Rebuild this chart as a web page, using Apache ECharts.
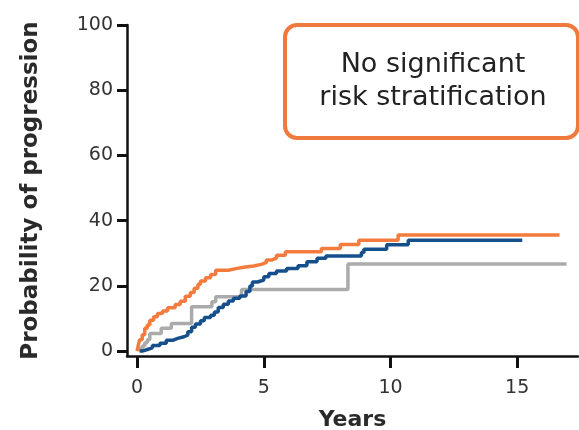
<!DOCTYPE html>
<html>
<head>
<meta charset="utf-8">
<script src="https://cdn.jsdelivr.net/npm/echarts@6/dist/echarts.min.js"></script>
<style>html,body{margin:0;padding:0;background:#fff;}#c{width:579px;height:430px;}</style>
</head>
<body>
<div id="c"></div>
<script>
// Step-curve data (time in years, cumulative probability %)
const orangeT = [0, 0.05, 0.1, 0.2, 0.3, 0.4, 0.5, 0.65, 0.8, 1.0, 1.2, 1.5, 1.7, 1.9, 2.1, 2.25, 2.4, 2.5, 2.7, 2.9, 3.1, 3.6, 3.9, 4.2, 4.6, 4.9, 5.1, 5.3, 5.5, 5.85, 7.27, 8.02, 8.75, 10.3, 16.67];
const orangeV = [0, 2, 3.5, 5, 7, 8, 9.5, 10.5, 11.5, 12.3, 13.3, 14.3, 15.3, 16.8, 18, 19.3, 20.5, 21.5, 22.5, 23.5, 24.8, 25.3, 25.7, 26.1, 26.6, 27.2, 27.9, 28.5, 29.4, 30.5, 31.5, 32.7, 34.0, 35.6, 35.6];

const blueT = [0.1, 0.2, 0.4, 0.6, 0.9, 1.15, 1.4, 1.6, 1.85, 2.0, 2.15, 2.3, 2.5, 2.65, 2.9, 3.05, 3.2, 3.4, 3.6, 3.8, 4.05, 4.3, 4.45, 4.55, 4.75, 5.0, 5.2, 5.5, 5.9, 6.35, 6.7, 7.1, 7.45, 8.85, 8.95, 9.85, 10.7, 15.2];
const blueV = [0, 0.5, 1, 1.7, 2.4, 3.3, 3.9, 4.4, 4.9, 5.9, 7.3, 8.3, 9.3, 10.3, 11, 12, 13.4, 14.4, 15.4, 16.2, 16.9, 18.3, 20, 21.2, 21.8, 22.8, 23.8, 24.6, 25.3, 26.2, 27.4, 28.5, 29.2, 30.2, 31.2, 32.6, 34.0, 34.0];

const grayT = [0.05, 0.1, 0.2, 0.3, 0.4, 0.5, 0.95, 1.35, 2.15, 2.95, 3.1, 4.12, 8.32, 16.95];
const grayV = [0, 0.8, 1.6, 2.6, 3.5, 5.4, 7.0, 8.5, 13.6, 15.1, 16.7, 18.9, 26.7, 26.7];

const xTicks = [0, 5, 10, 15];
const yTicks = [0, 20, 40, 60, 80, 100];

const COLORS = { orange: '#F47B3E', blue: '#16508C', gray: '#ABABAB' };
const zip = (t, v) => t.map((x, i) => [x, v[i]]);

const chart = echarts.init(document.getElementById('c'), null, { renderer: 'canvas' });
const labelFont = 'DejaVu Sans';
chart.setOption({
  animation: false,
  backgroundColor: '#fff',
  grid: { left: 127, right: 1, top: 25, bottom: 74, containLabel: false, outerBoundsMode: 'none' },
  xAxis: {
    type: 'value', min: -0.4, max: 17.4,
    name: 'Years', nameLocation: 'middle', nameGap: 53,
    nameTextStyle: { fontFamily: labelFont, fontWeight: 'bold', fontSize: 22, color: '#2a2a2a' },
    axisLine: { show: true, onZero: false, lineStyle: { color: '#111', width: 2.5 } },
    axisTick: { show: true, length: 12, customValues: xTicks, lineStyle: { color: '#111', width: 3 } },
    axisLabel: { customValues: xTicks, margin: 23, fontFamily: labelFont, fontSize: 19, color: '#333' },
    splitLine: { show: false }
  },
  yAxis: {
    type: 'value', min: -1.5, max: 100,
    name: 'Probability of progression', nameLocation: 'middle', nameGap: 84, nameRotate: 90,
    nameTextStyle: { fontFamily: labelFont, fontWeight: 'bold', fontSize: 23, color: '#2a2a2a' },
    axisLine: { show: true, onZero: false, lineStyle: { color: '#111', width: 2.5 } },
    axisTick: { show: true, length: 10, customValues: yTicks, lineStyle: { color: '#111', width: 3 } },
    axisLabel: { customValues: yTicks, margin: 14, fontFamily: labelFont, fontSize: 19, color: '#333' },
    splitLine: { show: false }
  },
  series: [
    { type: 'line', step: 'end', showSymbol: false, data: zip(grayT, grayV), lineStyle: { color: COLORS.gray, width: 3.5 }, itemStyle: { color: COLORS.gray }, z: 2 },
    { type: 'line', step: 'end', showSymbol: false, data: zip(blueT, blueV), lineStyle: { color: COLORS.blue, width: 3.5 }, itemStyle: { color: COLORS.blue }, z: 3 },
    { type: 'line', step: 'end', showSymbol: false, data: zip(orangeT, orangeV), lineStyle: { color: COLORS.orange, width: 3.5 }, itemStyle: { color: COLORS.orange }, z: 4 }
  ],
  graphic: [
    { type: 'rect', left: 283, top: 23, z: 10,
      shape: { width: 293, height: 113, r: 12 },
      style: { fill: '#fff', stroke: '#F07A3E', lineWidth: 4 } },
    { type: 'text', x: 433, y: 81, z: 11,
      style: { text: 'No significant\nrisk stratification', fontFamily: labelFont, fontSize: 27, lineHeight: 33,
        fill: '#222', align: 'center', verticalAlign: 'middle' } }
  ]
});
</script>
</body>
</html>
